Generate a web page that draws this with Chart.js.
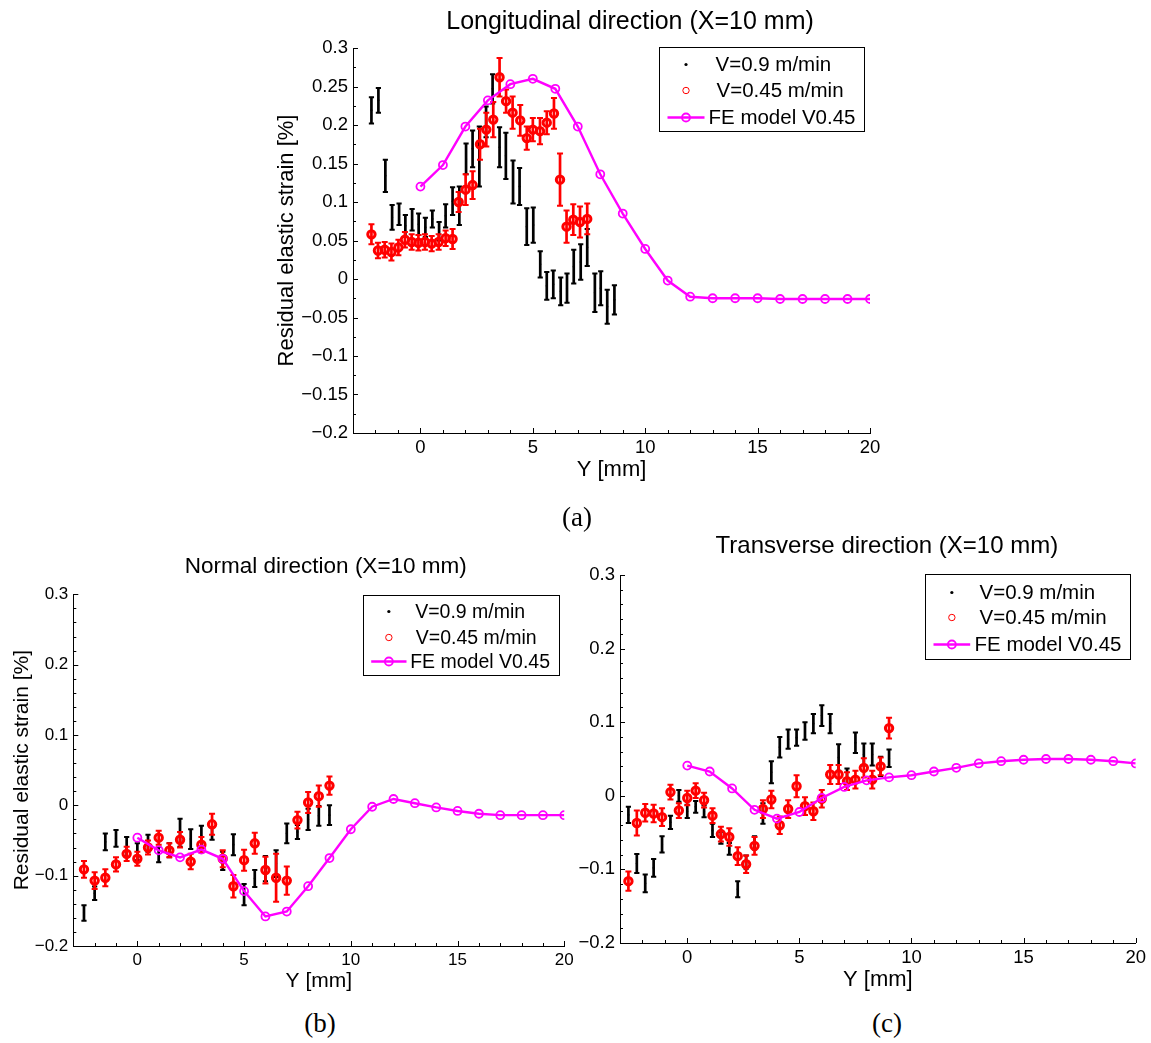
<!DOCTYPE html>
<html><head><meta charset="utf-8">
<script src="https://cdn.jsdelivr.net/npm/chart.js@4.4.1/dist/chart.umd.min.js"></script>
<style>
html,body{margin:0;padding:0;background:#fff;}
body{width:1151px;height:1043px;position:relative;overflow:hidden;}
canvas{position:absolute;display:block;}
.cap{position:absolute;font-family:"Liberation Serif","DejaVu Serif",serif;font-size:27px;line-height:30px;color:#000;transform:translateX(-50%);white-space:nowrap;}
</style></head><body>
<canvas id="ca" width="640" height="490" style="left:250px;top:0px;width:640px;height:490px"></canvas>
<canvas id="cb" width="590" height="460" style="left:0px;top:540px;width:590px;height:460px"></canvas>
<canvas id="cc" width="590" height="480" style="left:560px;top:520px;width:590px;height:480px"></canvas>
<div class="cap" style="left:577px;top:502px">(a)</div>
<div class="cap" style="left:320px;top:1008px">(b)</div>
<div class="cap" style="left:887px;top:1008px">(c)</div>
<script>
// ---------------- shared tick labels / legend ----------------
const xTickVals = [0, 5, 10, 15, 20];
const xTickLabels = ['0', '5', '10', '15', '20'];
const aYTickVals = [-0.2, -0.15, -0.1, -0.05, 0, 0.05, 0.1, 0.15, 0.2, 0.25, 0.3];
const aYTickLabels = ['\u22120.2', '\u22120.15', '\u22120.1', '\u22120.05', '0', '0.05', '0.1', '0.15', '0.2', '0.25', '0.3'];
const bcYTickVals = [-0.2, -0.1, 0, 0.1, 0.2, 0.3];
const bcYTickLabels = ['\u22120.2', '\u22120.1', '0', '0.1', '0.2', '0.3'];
const legendLabels = ['V=0.9 m/min', 'V=0.45 m/min', 'FE model V0.45'];
const feX = [0, 1, 2, 3, 4, 5, 6, 7, 8, 9, 10, 11, 12, 13, 14, 15, 16, 17, 18, 19, 20];

// ---------------- (a) Longitudinal ----------------
const aBlackX = [-2.18, -1.87, -1.56, -1.26, -0.95, -0.67, -0.37, -0.08, 0.22, 0.53, 0.83, 1.12, 1.43, 1.73, 2.03, 2.32, 2.62, 2.92, 3.21, 3.52, 3.80, 4.12, 4.41, 4.73, 5.02, 5.33, 5.62, 5.91, 6.24, 6.52, 6.82, 7.13, 7.42, 7.76, 8.02, 8.31, 8.63];
const aBlackY = [0.219, 0.232, 0.134, 0.080, 0.084, 0.069, 0.077, 0.071, 0.067, 0.078, 0.062, 0.082, 0.101, 0.095, 0.156, 0.169, 0.159, 0.204, 0.247, 0.171, 0.160, 0.126, 0.120, 0.068, 0.070, 0.019, -0.009, -0.007, -0.016, -0.012, 0.016, 0.022, 0.041, -0.018, -0.012, -0.036, -0.027];
const aBlackErr = [0.017, 0.016, 0.021, 0.016, 0.014, 0.014, 0.014, 0.014, 0.0125, 0.011, 0.012, 0.015, 0.018, 0.025, 0.02, 0.024, 0.039, 0.02, 0.019, 0.026, 0.03, 0.028, 0.024, 0.024, 0.023, 0.017, 0.018, 0.018, 0.018, 0.019, 0.022, 0.023, 0.024, 0.025, 0.022, 0.022, 0.019];
const aRedX = [-2.18, -1.89, -1.59, -1.29, -0.98, -0.69, -0.39, -0.09, 0.20, 0.50, 0.81, 1.12, 1.43, 1.70, 2.01, 2.32, 2.65, 2.93, 3.24, 3.52, 3.81, 4.10, 4.44, 4.73, 5.00, 5.32, 5.62, 5.94, 6.21, 6.50, 6.80, 7.10, 7.42];
const aRedY = [0.058, 0.037, 0.038, 0.035, 0.041, 0.051, 0.048, 0.047, 0.048, 0.046, 0.048, 0.053, 0.052, 0.100, 0.116, 0.122, 0.175, 0.194, 0.207, 0.262, 0.231, 0.216, 0.206, 0.183, 0.194, 0.192, 0.203, 0.215, 0.129, 0.068, 0.077, 0.074, 0.078];
const aRedErr = [0.013, 0.01, 0.01, 0.011, 0.01, 0.01, 0.01, 0.01, 0.01, 0.01, 0.01, 0.01, 0.013, 0.013, 0.02, 0.018, 0.02, 0.022, 0.023, 0.025, 0.015, 0.021, 0.02, 0.015, 0.015, 0.017, 0.015, 0.02, 0.034, 0.021, 0.02, 0.02, 0.02];
const aFeY = [0.120, 0.148, 0.198, 0.232, 0.253, 0.260, 0.247, 0.198, 0.136, 0.085, 0.039, -0.002, -0.023, -0.025, -0.025, -0.025, -0.026, -0.026, -0.026, -0.026, -0.026];

// ---------------- (b) Normal ----------------
const bX = [-2.5, -2, -1.5, -1, -0.5, 0, 0.5, 1, 1.5, 2, 2.5, 3, 3.5, 4, 4.5, 5, 5.5, 6, 6.5, 7, 7.5, 8, 8.5, 9];
const bBlackY = [-0.153, -0.125, -0.052, -0.047, -0.059, -0.066, -0.054, -0.070, -0.064, -0.039, -0.048, -0.044, -0.040, -0.079, -0.056, -0.127, -0.104, -0.090, -0.083, -0.040, -0.038, -0.020, -0.015, -0.014];
const bBlackErr = [0.011, 0.0095, 0.012, 0.012, 0.014, 0.012, 0.012, 0.011, 0.01, 0.02, 0.014, 0.015, 0.009, 0.013, 0.015, 0.015, 0.012, 0.018, 0.019, 0.014, 0.01, 0.015, 0.014, 0.014];
const bRedY = [-0.091, -0.107, -0.103, -0.084, -0.069, -0.076, -0.060, -0.046, -0.064, -0.049, -0.080, -0.056, -0.027, -0.076, -0.115, -0.078, -0.054, -0.092, -0.103, -0.107, -0.021, 0.004, 0.013, 0.028];
const bRedErr = [0.012, 0.012, 0.012, 0.01, 0.01, 0.01, 0.01, 0.01, 0.01, 0.011, 0.011, 0.011, 0.015, 0.012, 0.016, 0.015, 0.015, 0.019, 0.034, 0.02, 0.012, 0.015, 0.015, 0.013];
const bFeY = [-0.046, -0.064, -0.074, -0.063, -0.076, -0.122, -0.158, -0.151, -0.115, -0.075, -0.034, -0.002, 0.009, 0.003, -0.003, -0.008, -0.012, -0.014, -0.014, -0.014, -0.014];

// ---------------- (c) Transverse ----------------
const cX = [-2.625, -2.25, -1.875, -1.5, -1.125, -0.75, -0.375, 0, 0.375, 0.75, 1.125, 1.5, 1.875, 2.25, 2.625, 3, 3.375, 3.75, 4.125, 4.5, 4.875, 5.25, 5.625, 6, 6.375, 6.75, 7.125, 7.5, 7.875, 8.25, 8.625, 9];
const cBlackY = [-0.026, -0.092, -0.119, -0.098, -0.066, -0.036, 0.0, -0.021, -0.015, -0.021, -0.047, -0.057, -0.072, -0.127, -0.090, -0.064, -0.024, 0.032, 0.066, 0.077, 0.079, 0.088, 0.098, 0.109, 0.098, 0.052, 0.025, 0.072, 0.056, 0.056, 0.040, 0.051];
const cBlackErr = [0.011, 0.013, 0.012, 0.012, 0.011, 0.009, 0.008, 0.009, 0.008, 0.008, 0.009, 0.008, 0.008, 0.011, 0.009, 0.009, 0.014, 0.015, 0.014, 0.013, 0.011, 0.012, 0.013, 0.014, 0.013, 0.018, 0.012, 0.014, 0.015, 0.015, 0.013, 0.012];
const cRedY = [-0.116, -0.037, -0.023, -0.024, -0.029, 0.005, -0.020, -0.003, 0.007, -0.006, -0.027, -0.052, -0.056, -0.082, -0.093, -0.068, -0.018, -0.005, -0.040, -0.018, 0.013, -0.014, -0.021, -0.004, 0.029, 0.029, 0.020, 0.022, 0.038, 0.022, 0.040, 0.092];
const cRedErr = [0.013, 0.017, 0.012, 0.012, 0.012, 0.01, 0.01, 0.01, 0.01, 0.01, 0.01, 0.01, 0.012, 0.012, 0.012, 0.012, 0.012, 0.012, 0.012, 0.012, 0.015, 0.012, 0.012, 0.012, 0.013, 0.013, 0.012, 0.012, 0.013, 0.012, 0.012, 0.014];
const cFeY = [0.041, 0.033, 0.010, -0.019, -0.031, -0.022, -0.003, 0.012, 0.021, 0.025, 0.028, 0.033, 0.038, 0.044, 0.047, 0.049, 0.050, 0.050, 0.049, 0.047, 0.044];

// ---------------- rendering ----------------
const FONT = '"Liberation Sans", Arial, Helvetica, sans-serif';
const MAG = '#ff00ff';
Chart.defaults.font.family = FONT;
Chart.defaults.color = '#000';

const pts = (xs, ys) => xs.map((x, i) => ({x: x, y: ys[i]}));

const errorBars = {
  id: 'errorBars',
  beforeDatasetDraw(chart, args) {
    const ds = chart.data.datasets[args.index];
    if (!ds.err) return;
    const xs = chart.scales.x, ys = chart.scales.y, ctx = chart.ctx, ca = chart.chartArea;
    ctx.save();
    ctx.beginPath(); ctx.rect(ca.left, ca.top - 3, ca.right - ca.left, ca.bottom - ca.top + 6); ctx.clip();
    ctx.strokeStyle = ds.errColor; ctx.lineCap = 'butt';
    ds.data.forEach((p, i) => {
      const e = ds.err[i];
      const px = xs.getPixelForValue(p.x);
      const y1 = ys.getPixelForValue(p.y + e), y2 = ys.getPixelForValue(p.y - e);
      ctx.lineWidth = ds.errWidth;
      ctx.beginPath(); ctx.moveTo(px, y1); ctx.lineTo(px, y2); ctx.stroke();
      ctx.lineWidth = ds.capWidth;
      ctx.beginPath();
      ctx.moveTo(px - ds.capHalf, y1); ctx.lineTo(px + ds.capHalf, y1);
      ctx.moveTo(px - ds.capHalf, y2); ctx.lineTo(px + ds.capHalf, y2);
      ctx.stroke();
    });
    ctx.restore();
  }
};

const innerTicks = {
  id: 'innerTicks',
  beforeDatasetsDraw(chart, args, o) {
    const ctx = chart.ctx, ca = chart.chartArea, x = chart.scales.x, y = chart.scales.y;
    ctx.save(); ctx.strokeStyle = '#000'; ctx.lineWidth = 1; ctx.beginPath();
    const yt = (v, len) => { const p = Math.round(y.getPixelForValue(v)) + 0.5; ctx.moveTo(ca.left, p); ctx.lineTo(ca.left + len, p); };
    const xt = (v, len) => { const p = Math.round(x.getPixelForValue(v)) + 0.5; ctx.moveTo(p, ca.bottom); ctx.lineTo(p, ca.bottom - len); };
    o.yMajor.forEach(v => yt(v, 5));
    for (let k = 0; ; k++) { const v = o.yMin + k * o.yMinorStep; if (v > o.yMax + 1e-9) break; if (!o.yMajor.some(m => Math.abs(m - v) < 1e-9)) yt(v, 3); }
    xTickVals.forEach(v => xt(v, 5));
    for (let v = -2; v <= 19; v++) { if (v % 5 !== 0) xt(v, 3); }
    ctx.stroke(); ctx.restore();
  }
};

const panelTitle = {
  id: 'panelTitle',
  afterDraw(chart, args, o) {
    const ctx = chart.ctx, ca = chart.chartArea;
    ctx.save();
    ctx.font = o.size + 'px ' + FONT; ctx.fillStyle = '#000';
    ctx.textAlign = 'center'; ctx.textBaseline = 'middle';
    ctx.fillText(o.text, (ca.left + ca.right) / 2 + o.dx, o.y);
    ctx.restore();
  }
};

const boxLegend = {
  id: 'boxLegend',
  afterDraw(chart, args, o) {
    const ctx = chart.ctx, ca = chart.chartArea;
    ctx.save();
    ctx.font = o.size + 'px ' + FONT;
    let w = 0;
    legendLabels.forEach((t, i) => { w = Math.max(w, o.textX[i] + ctx.measureText(t).width); });
    w = Math.round(w + 9);
    const bx = Math.round(ca.right - o.insetRight - w) + 0.5, by = Math.round(ca.top + o.insetTop) + 0.5;
    ctx.fillStyle = '#fff'; ctx.fillRect(bx, by, w, o.h);
    ctx.strokeStyle = '#000'; ctx.lineWidth = 1; ctx.strokeRect(bx, by, w, o.h);
    const cx = bx + (o.lineStart + o.lineEnd) / 2;
    let ry = by + o.rows[0];
    ctx.fillStyle = '#000'; ctx.beginPath(); ctx.arc(cx, ry, 1.6, 0, Math.PI * 2); ctx.fill();
    ry = by + o.rows[1];
    ctx.strokeStyle = '#ff0000'; ctx.lineWidth = 1; ctx.beginPath(); ctx.arc(cx, ry, 3.2, 0, Math.PI * 2); ctx.stroke();
    ry = by + o.rows[2];
    ctx.strokeStyle = MAG; ctx.lineWidth = 2.4; ctx.beginPath(); ctx.moveTo(bx + o.lineStart, ry); ctx.lineTo(bx + o.lineEnd, ry); ctx.stroke();
    ctx.lineWidth = 1.8; ctx.beginPath(); ctx.arc(cx, ry, 4, 0, Math.PI * 2); ctx.stroke();
    ctx.fillStyle = '#000'; ctx.textAlign = 'left'; ctx.textBaseline = 'middle';
    legendLabels.forEach((t, i) => ctx.fillText(t, bx + o.textX[i], by + o.rows[i] + 1));
    ctx.restore();
  }
};

function makeChart(id, s) {
  return new Chart(document.getElementById(id), {
    type: 'scatter',
    data: {
      datasets: [
        { label: legendLabels[2], type: 'line', data: pts(feX, s.feY), borderColor: MAG, borderWidth: 2.4,
          pointRadius: 4, pointBorderWidth: 1.8, pointBorderColor: MAG, pointBackgroundColor: 'rgba(0,0,0,0)',
          showLine: true, tension: 0, fill: false },
        { label: legendLabels[1], data: pts(s.redX, s.redY), err: s.redErr, errColor: '#ff0000', errWidth: 2.7,
          capWidth: 2, capHalf: 3, pointRadius: 3.7, pointBorderWidth: 3, pointBorderColor: '#ff0000',
          pointBackgroundColor: 'rgba(0,0,0,0)', showLine: false },
        { label: legendLabels[0], data: pts(s.blackX, s.blackY), err: s.blackErr, errColor: '#000', errWidth: 2.7,
          capWidth: 2, capHalf: 2.6, pointRadius: 1.1, pointBorderWidth: 0, pointBackgroundColor: '#000', showLine: false }
      ]
    },
    options: {
      responsive: false, animation: false, events: [],
      layout: { padding: { left: 0, right: s.padRight, top: s.padTop, bottom: 0 } },
      plugins: {
        legend: { display: false }, tooltip: { enabled: false },
        panelTitle: { text: s.title, size: s.titleSize, dx: s.titleDx, y: s.titleY },
        innerTicks: { yMajor: s.yTickVals, yMin: -0.2, yMax: 0.3, yMinorStep: s.yMinorStep },
        boxLegend: s.legend
      },
      scales: {
        x: {
          type: 'linear', min: -3, max: 20,
          afterBuildTicks: sc => { sc.ticks = xTickVals.map(v => ({value: v})); },
          afterFit: sc => { sc.height = s.xH; },
          ticks: { autoSkip: false, maxRotation: 0, minRotation: 0, padding: s.xTickPad, color: '#000',
                   font: { size: s.tickSize }, callback: (v, i) => xTickLabels[i] },
          grid: { display: true, drawOnChartArea: false, drawTicks: false },
          border: { display: true, color: '#000', width: 1 },
          title: { display: true, text: 'Y [mm]', color: '#000', font: { size: s.axisSize, lineHeight: 1.2 },
                   padding: { top: 0, bottom: s.xTitlePad } }
        },
        y: {
          type: 'linear', min: -0.2, max: 0.3,
          afterBuildTicks: sc => { sc.ticks = s.yTickVals.map(v => ({value: v})); },
          afterFit: sc => { sc.width = s.yW; },
          ticks: { autoSkip: false, padding: 5, color: '#000', font: { size: s.tickSize },
                   callback: (v, i) => s.yTickLabels[i] },
          grid: { display: true, drawOnChartArea: false, drawTicks: false },
          border: { display: true, color: '#000', width: 1 },
          title: { display: !!s.yTitle, text: s.yTitle || '', color: '#000', font: { size: s.axisSize, lineHeight: 1.2 },
                   padding: { top: s.yTitlePad, bottom: 0 } }
        }
      }
    },
    plugins: [errorBars, innerTicks, panelTitle, boxLegend]
  });
}

makeChart('ca', {
  feY: aFeY, redX: aRedX, redY: aRedY, redErr: aRedErr, blackX: aBlackX, blackY: aBlackY, blackErr: aBlackErr,
  yTickVals: aYTickVals, yTickLabels: aYTickLabels, yMinorStep: 0.025,
  padRight: 20, padTop: 48, xH: 57, yW: 103, tickSize: 18.5, axisSize: 22, xTickPad: 4,
  xTitlePad: 6.8, yTitle: 'Residual elastic strain [%]', yTitlePad: 23.8,
  title: 'Longitudinal direction (X=10 mm)', titleSize: 25, titleDx: 18.5, titleY: 22,
  legend: { size: 20.5, insetRight: 6, insetTop: -1, h: 84, rows: [17, 43, 70], lineStart: 8, lineEnd: 45, textX: [56, 57, 49] }
});

makeChart('cb', {
  feY: bFeY, redX: bX, redY: bRedY, redErr: bRedErr, blackX: bX, blackY: bBlackY, blackErr: bBlackErr,
  yTickVals: bcYTickVals, yTickLabels: bcYTickLabels, yMinorStep: 0.02,
  padRight: 25.7, padTop: 54.3, xH: 54, yW: 73.3, tickSize: 17, axisSize: 21, xTickPad: 4,
  xTitlePad: 6.4, yTitle: 'Residual elastic strain [%]', yTitlePad: 9.4,
  title: 'Normal direction (X=10 mm)', titleSize: 22.5, titleDx: 7, titleY: 27,
  legend: { size: 19.5, insetRight: 5.3, insetTop: 0.7, h: 80, rows: [16, 42, 66], lineStart: 7.7, lineEnd: 43, textX: [51.7, 52.3, 46.7] }
});

makeChart('cc', {
  feY: cFeY, redX: cX, redY: cRedY, redErr: cRedErr, blackX: cX, blackY: cBlackY, blackErr: cBlackErr,
  yTickVals: bcYTickVals, yTickLabels: bcYTickLabels, yMinorStep: 0.02,
  padRight: 14.3, padTop: 55, xH: 57, yW: 60, tickSize: 18.5, axisSize: 22, xTickPad: 4,
  xTitlePad: 6.8, yTitle: null, yTitlePad: 0,
  title: 'Transverse direction (X=10 mm)', titleSize: 24, titleDx: 9, titleY: 26,
  legend: { size: 20.5, insetRight: 5.7, insetTop: -1, h: 85, rows: [18, 43, 70], lineStart: 8, lineEnd: 44.7, textX: [54, 54, 49] }
});
</script>
</body></html>
